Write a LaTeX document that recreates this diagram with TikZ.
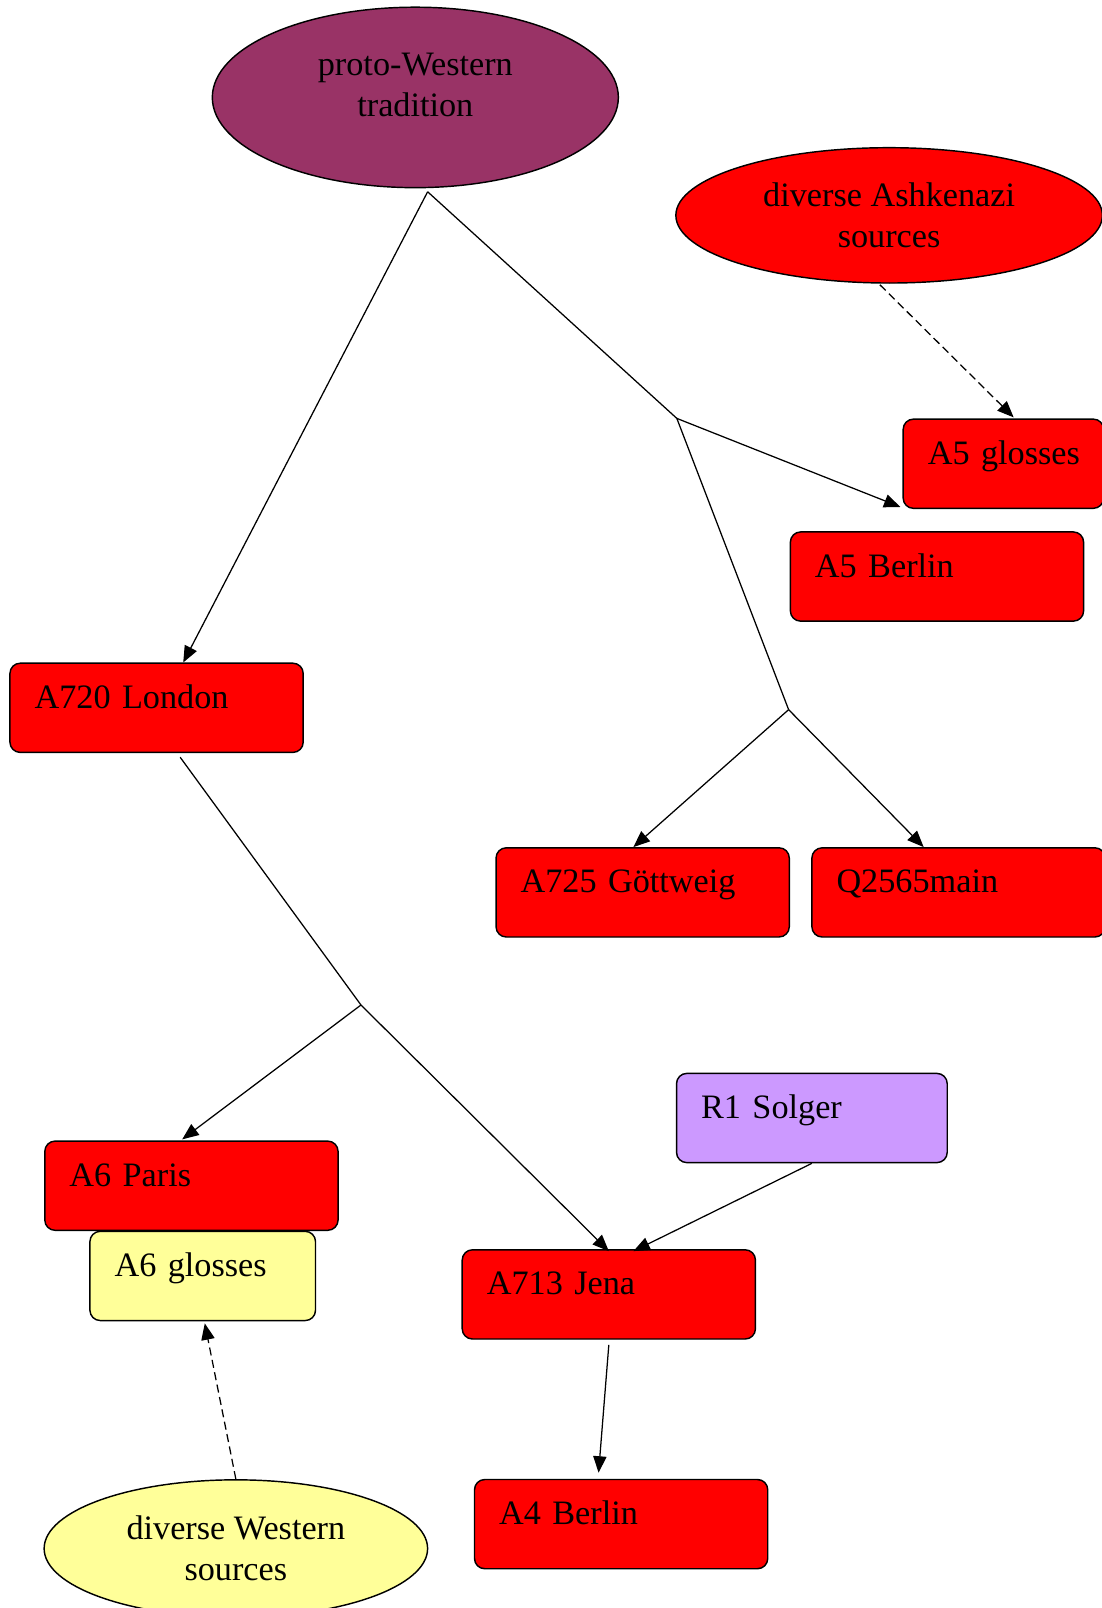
\documentclass[tikz,border=0pt]{standalone}
\usepackage{fontspec}
\setmainfont{Liberation Serif}
\usetikzlibrary{shapes.geometric,arrows.meta,calc}
\definecolor{protoplum}{HTML}{993366}
\definecolor{glossyellow}{HTML}{FFFF99}
\definecolor{solgerlilac}{HTML}{CC99FF}

\begin{document}
\begin{tikzpicture}[x=0.02cm,y=-0.02cm,
        font=\fontsize{19pt}{23pt}\selectfont,
        witness/.style={draw,line width=0.8pt,rounded corners=0.2cm,fill=red,anchor=north west,
            inner xsep=0.48cm,inner ysep=0pt,text height=0.88cm,text depth=0.86cm,
            align=left,text width=#1},
        witness/.default=4.76cm,
        source/.style={draw,line width=0.8pt,ellipse,inner sep=0pt,align=center},
        stemma/.style={line width=0.7pt,-{Triangle[length=0.32cm,width=0.26cm]}},
        contam/.style={stemma,dash pattern=on 4.5pt off 2.5pt}]
                \useasboundingbox (0,0) rectangle (1074,1568);
                % sources
                \node[source,fill=protoplum,minimum width=7.92cm,minimum height=3.52cm,
                    label={[align=center,yshift=0.24cm]center:proto-Western\\tradition}] (proto) at (405,95) {};
                \node[source,fill=red,minimum width=8.32cm,minimum height=2.64cm] (ashk) at (867,210) {diverse Ashkenazi\\sources};
                \node[source,fill=glossyellow,minimum width=7.48cm,minimum height=2.68cm] (western) at (230,1510) {diverse Western\\sources};
                % witnesses
                \node[witness=2.95cm] (a5gl) at (880,408) {\mbox{A5 glosses}};
                \node[witness] (a5berlin) at (770,518) {A5 Berlin};
                \node[witness] (london) at (9,646) {A720 London};
                \node[witness] (gottweig) at (483,826) {A725 Göttweig};
                \node[witness] (q2565) at (791,826) {Q2565main};
                \node[witness=4.32cm,fill=solgerlilac] (solger) at (659,1046) {R1 Solger};
                \node[witness] (paris) at (43,1112) {A6 Paris};
                \node[witness=3.44cm,fill=glossyellow] (a6gl) at (87,1200) {A6 glosses};
                \node[witness] (jena) at (450,1218) {A713 Jena};
                \node[witness] (a4berlin) at (462,1442) {A4 Berlin};
                % branch points
                \coordinate (pwfork) at (417,187);
                \coordinate (hyp1) at (660,408);
                \coordinate (hyp2) at (769,692);
                \coordinate (hyp3) at (352,980);
                % descent
                \draw[stemma] (pwfork) -- ($(london.north)+(26,0)$);
                \draw[line width=0.7pt] (pwfork) -- (hyp1) -- (hyp2);
                \draw[stemma] (hyp1) -- ($(a5gl.south west)+(-2,-2)$);
                \draw[stemma] (hyp2) -- ($(gottweig.north)+(-9,0)$);
                \draw[stemma] (hyp2) -- ($(q2565.north)+(-34,0)$);
                \draw[line width=0.7pt] ($(london.south)+(23,4)$) -- (hyp3);
                \draw[stemma] (hyp3) -- ($(paris.north)+(-9,-1)$);
                \draw[stemma] (hyp3) -- ($(jena.north)+(0,2)$);
                \draw[stemma] (solger.south) -- ($(jena.north)+(24,2)$);
                \draw[stemma] ($(jena.south)+(0,5)$) -- ($(a4berlin.north)+(-22,-6)$);
                % contamination
                \draw[contam] ($(ashk.south)+(-9,1)$) -- ($(a5gl.north)+(10,-1)$);
                \draw[contam] (western.north) -- ($(a6gl.south)+(2,2)$);
            \end{tikzpicture}
\end{document}
